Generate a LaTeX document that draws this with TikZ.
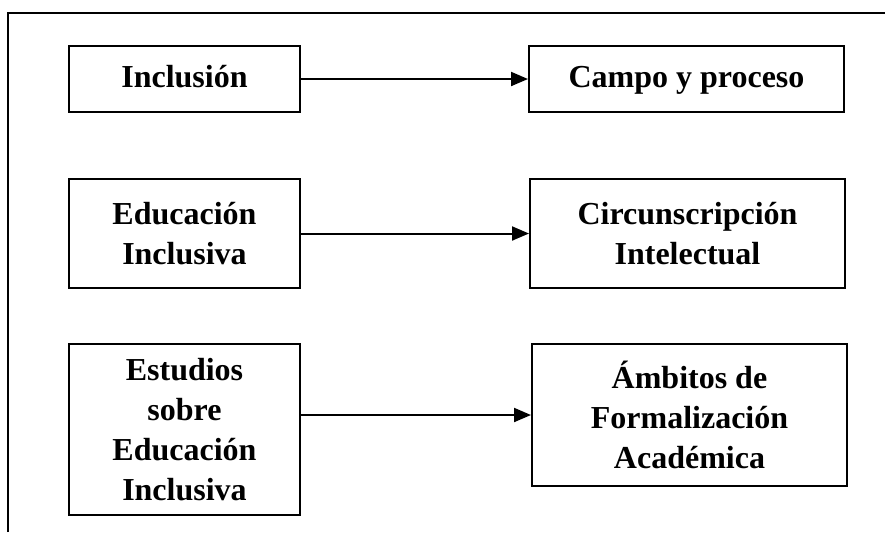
\documentclass[tikz,border=0pt]{standalone}
\usepackage{fontspec}
\setmainfont{Liberation Serif}
\usetikzlibrary{arrows.meta}
\begin{document}
\begin{tikzpicture}[x=0.5pt,y=-0.5pt,
  box/.style={draw,line width=1pt,align=center,inner sep=0pt,
    font=\fontsize{16}{20}\selectfont\bfseries},
  lbox/.style={box,minimum width=115.5pt},
  rbox/.style={box,minimum width=157.5pt},
  arr/.style={line width=1pt,-{Triangle[length=8.5pt,width=7pt]}},
  frame/.style={line width=1pt}]
\useasboundingbox (0,0) rectangle (885,532);
\draw[frame] (8,532) -- (8,13) -- (885,13);
\node[lbox,minimum height=33pt] (b1) at (184.5,79) {\strut Inclusión};
\node[rbox,minimum height=33pt] (b2) at (686.5,79) {\strut Campo y proceso};
\node[lbox,minimum height=54.5pt] (b3) at (184.5,233.5) {Educación\\Inclusiva};
\node[rbox,minimum height=54.5pt] (b4) at (687.5,233.5) {Circunscripción\\Intelectual};
\node[lbox,minimum height=85.5pt] (b5) at (184.5,429.5) {Estudios\\sobre\\Educación\\Inclusiva};
\node[rbox,minimum height=71pt] (b6) at (689.5,415) {Ámbitos de\\Formalización\\Académica};
\draw[arr] (b1.east) -- (b2.west);
\draw[arr] (b3.east) -- (b4.west);
\draw[arr] (b5.east |- b6.west) -- (b6.west);
\end{tikzpicture}
\end{document}
